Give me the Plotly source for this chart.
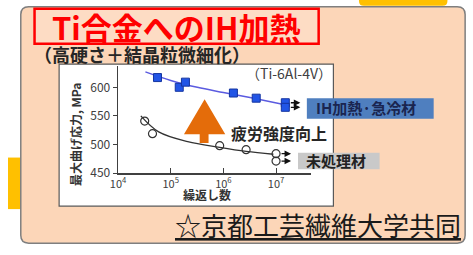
import plotly.graph_objects as go
import math

W, H = 473, 255
FONT = "Noto Sans CJK JP"

# ---------------- data ----------------
ih_cycles = [5.6e4, 1.45e5, 1.9e5, 1.55e6, 4.2e6]
ih_stress = [617, 600, 609, 590, 581]
ih_runout_cycles = [1.5e7, 1.5e7]
ih_runout_stress = [573, 565]
ih_fit_cycles = [3.3e4, 1.0e5, 3.2e5, 1.0e6, 3.2e6, 1.4e7]
ih_fit_stress = [627, 612, 600, 591, 582, 570]

raw_cycles = [3.2e4, 4.5e4, 8.5e5, 2.7e6]
raw_stress = [541, 519, 498, 491]
raw_runout_cycles = [1.0e7, 1.0e7]
raw_runout_stress = [484, 471]
raw_fit_cycles = [2.7e4, 5.9e4, 2.1e5, 8.5e5, 2.7e6, 8.9e6]
raw_fit_stress = [550, 522, 505, 495, 488, 483]

x_tickvals = [1e4, 1e5, 1e6, 1e7]
x_ticktext = ["10<sup>4</sup>", "10<sup>5</sup>", "10<sup>6</sup>", "10<sup>7</sup>"]
y_tickvals = [450, 500, 550, 600]

def px(x):
    return x / W

def py(y):
    return 1 - y / H

fig = go.Figure()

fig.add_trace(go.Scatter(x=ih_fit_cycles, y=ih_fit_stress, mode="lines",
                         line=dict(color="#5b5be0", width=1.5, shape="spline"),
                         hoverinfo="skip", showlegend=False))
fig.add_trace(go.Scatter(x=raw_fit_cycles, y=raw_fit_stress, mode="lines",
                         line=dict(color="#333333", width=1.3, shape="spline"),
                         hoverinfo="skip", showlegend=False))
fig.add_trace(go.Scatter(x=ih_cycles + ih_runout_cycles, y=ih_stress + ih_runout_stress,
                         mode="markers",
                         marker=dict(symbol="square", size=8, color="#2255e6",
                                     line=dict(color="#1535a0", width=1)),
                         showlegend=False))
fig.add_trace(go.Scatter(x=raw_cycles + raw_runout_cycles, y=raw_stress + raw_runout_stress,
                         mode="markers",
                         marker=dict(symbol="circle-open", size=8, color="#333333",
                                     line=dict(color="#333333", width=1.2)),
                         showlegend=False))

annotations = []
for cx, cy in zip(ih_runout_cycles + raw_runout_cycles, ih_runout_stress + raw_runout_stress):
    annotations.append(dict(x=math.log10(cx), y=cy, xref="x", yref="y", text="",
                            showarrow=True, ax=-11, ay=0, xshift=15,
                            arrowhead=2, arrowsize=1, arrowwidth=1.3, arrowcolor="#111111"))

def txt(x, y, text, size, color="#222222", bold=False, **kw):
    t = f"<b>{text}</b>" if bold else text
    d = dict(x=px(x), y=py(y), xref="paper", yref="paper", text=t, showarrow=False,
             xanchor="center", yanchor="middle",
             font=dict(family=FONT, size=size, color=color))
    d.update(kw)
    annotations.append(d)

txt(171, 27, "Ti合金へのIH加熱", 31, color="#ff0000", bold=True)
txt(136, 56, "（高硬さ＋結晶粒微細化）", 18, color="#262626", bold=True)
txt(286, 75, "（Ti-6Al-4V）", 14, color="#404040")
txt(276, 137, "疲労強度向上", 16, color="#262626", bold=True)
txt(364, 111, "IH加熱·急冷材", 15, color="#1a2550", bold=True)
txt(334, 165, "未処理材", 15, color="#222222", bold=True)
txt(68, 138, "最大曲げ応力, MPa", 12, color="#333333", bold=True, textangle=-90)
txt(202, 200, "繰返し数", 12, color="#333333", bold=True)
txt(315, 231, "<u>☆京都工芸繊維大学共同</u>", 26, color="#1a1a1a")

def rounded(x0, y0, x1, y1, r):
    X0, X1 = px(x0), px(x1)
    Y0, Y1 = py(y0), py(y1)
    rx, ry = r / W, r / H
    return (f"M{X0+rx},{Y0} L{X1-rx},{Y0} Q{X1},{Y0} {X1},{Y0-ry} "
            f"L{X1},{Y1+ry} Q{X1},{Y1} {X1-rx},{Y1} L{X0+rx},{Y1} "
            f"Q{X0},{Y1} {X0},{Y1+ry} L{X0},{Y0-ry} Q{X0},{Y0} {X0+rx},{Y0} Z")

def poly(pts):
    return "M" + " L".join(f"{px(a)},{py(b)}" for a, b in pts) + " Z"

shapes = []
# background decorations
shapes.append(dict(type="rect", xref="paper", yref="paper", x0=px(0), x1=px(14),
                   y0=py(215), y1=py(162), fillcolor="#ffc000", line=dict(width=0), layer="below"))
shapes.append(dict(type="path", xref="paper", yref="paper", path=rounded(357, -10, 447, 6, 5),
                   fillcolor="#ffc000", line=dict(width=0), layer="below"))
# peach panel
shapes.append(dict(type="path", xref="paper", yref="paper", path=rounded(13, 7, 465, 250, 8),
                   fillcolor="#fcd6b8", line=dict(color="#7f7f7f", width=1.5), layer="below"))
# title box
shapes.append(dict(type="rect", xref="paper", yref="paper", x0=px(27), x1=px(316),
                   y0=py(45), y1=py(9), fillcolor="#fddcc4", line=dict(color="#ff0000", width=2.5),
                   layer="below"))
# chart box
shapes.append(dict(type="rect", xref="paper", yref="paper", x0=px(52), x1=px(331),
                   y0=py(212), y1=py(66), fillcolor="#ffffff", line=dict(color="#595959", width=1.2),
                   layer="below"))
# label boxes
shapes.append(dict(type="rect", xref="paper", yref="paper", x0=px(304), x1=px(433),
                   y0=py(122), y1=py(101), fillcolor="#4f7fbf", line=dict(width=0), layer="below"))
shapes.append(dict(type="rect", xref="paper", yref="paper", x0=px(295), x1=px(378),
                   y0=py(174), y1=py(157), fillcolor="#c9c9c9", line=dict(width=0), layer="below"))
# orange arrow
shapes.append(dict(type="path", xref="paper", yref="paper",
                   path=poly([(200, 102), (221, 138), (204, 138), (204, 147), (195, 147),
                              (195, 138), (179, 138)]),
                   fillcolor="#e46c0a", line=dict(width=0)))

fig.update_layout(
    width=W, height=H, autosize=False,
    margin=dict(l=0, r=0, t=0, b=0),
    paper_bgcolor="#ffffff", plot_bgcolor="rgba(0,0,0,0)",
    shapes=shapes, annotations=annotations,
    xaxis=dict(type="log", domain=[px(112), px(308)], range=[4, 7.66],
               tickvals=x_tickvals, ticktext=x_ticktext, ticks="inside", ticklen=5,
               tickcolor="#404040", showline=True, linecolor="#404040", linewidth=1.5,
               showgrid=False, zeroline=False,
               tickfont=dict(family=FONT, size=11, color="#404040")),
    yaxis=dict(domain=[py(178), py(68)], range=[450, 637], tickvals=y_tickvals,
               ticks="outside", ticklen=4, tickcolor="#404040",
               showline=True, linecolor="#404040", linewidth=1.5,
               showgrid=False, zeroline=False,
               tickfont=dict(family=FONT, size=12, color="#404040")),
)

fig.write_html("out.html", config={"displayModeBar": False, "staticPlot": True},
               post_script="document.body.style.margin='0';document.body.style.overflow='hidden';")
